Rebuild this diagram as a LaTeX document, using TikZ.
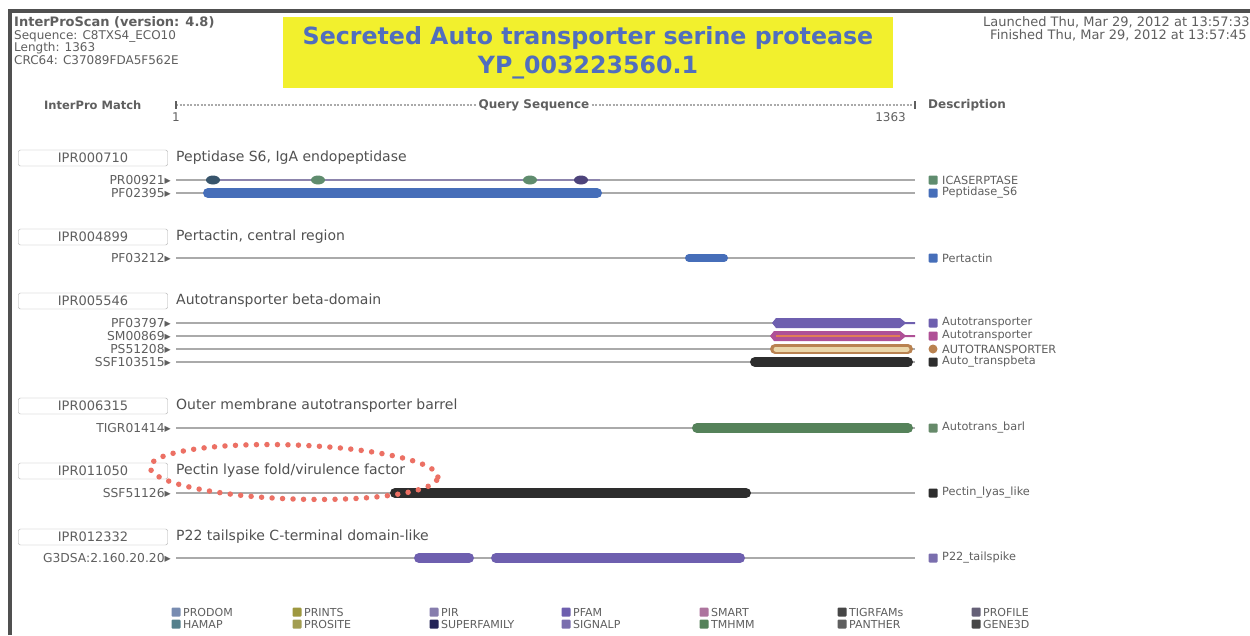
\documentclass[tikz,border=0pt]{standalone}
\usepackage{fontspec}
\setmainfont{DejaVu Sans}
\usetikzlibrary{shapes.geometric}
\definecolor{frame}{RGB}{80,80,80}
\definecolor{ybox}{RGB}{242,240,45}
\definecolor{ttl}{RGB}{80,110,190}
\definecolor{txt}{RGB}{95,95,95}
\definecolor{lgray}{RGB}{170,170,170}
\definecolor{pblue}{RGB}{70,110,185}
\definecolor{pgreen}{RGB}{95,140,110}
\definecolor{ppurp}{RGB}{110,95,175}
\definecolor{ppink}{RGB}{175,80,150}
\definecolor{porange}{RGB}{225,125,85}
\definecolor{pbrown}{RGB}{185,130,80}
\definecolor{pbeige}{RGB}{235,215,170}
\definecolor{pdark}{RGB}{45,45,45}
\definecolor{tgreen}{RGB}{85,130,90}
\definecolor{salmon}{RGB}{236,112,100}
\tikzset{
  hdr/.style={font=\fontsize{12.5}{13}\selectfont\bfseries, text=txt, inner sep=0, anchor=west},
  meta/.style={font=\fontsize{12}{13}\selectfont, text=txt, inner sep=0, anchor=west},
  ipr/.style={draw=lgray, rounded corners=2pt, minimum width=149, minimum height=16, inner sep=0, font=\fontsize{13}{14}\selectfont, text=txt},
  desc/.style={font=\fontsize{14}{15}\selectfont, text=txt!85!black, inner sep=0, anchor=west},
  sig/.style={font=\fontsize{12.3}{13}\selectfont, text=txt, inner sep=0, anchor=east},
  leg/.style={font=\fontsize{11.3}{12}\selectfont, text=txt, inner sep=0, anchor=west},
  track/.style={draw=lgray, line width=2},
  bar/.style={line width=10, line cap=round},
  sq/.style={rounded corners=1pt, minimum size=9, inner sep=0},
  bleg/.style={font=\fontsize{11}{12}\selectfont, text=txt, inner sep=0, anchor=west},
}
\begin{document}
\begin{tikzpicture}[x=1pt,y=-1pt]
\useasboundingbox (0,0) rectangle (1250,635);
\fill[white] (0,0) rectangle (1250,635);
% frame
\coordinate (fbl) at (10,635);
\coordinate (ftl) at (10,11);
\coordinate (ftr) at (1250,11);
\draw[frame, line width=3.5] (fbl) -- (ftl) -- (ftr);

% header
\node[hdr, font=\fontsize{13}{14}\selectfont\bfseries] (h1) at (14,22) {InterProScan (version: 4.8)};
\node[meta] (h2) at (14,36) {Sequence: C8TXS4\_ECO10};
\node[meta] (h3) at (14,48) {Length: 1363};
\node[meta] (h4) at (14,60) {CRC64: C37089FDA5F562E};
\node[meta, font=\fontsize{13}{14}\selectfont] (l1) at (983,22) {Launched Thu, Mar 29, 2012 at 13:57:33};
\node[meta, font=\fontsize{13}{14}\selectfont] (l2) at (990,35) {Finished Thu, Mar 29, 2012 at 13:57:45};

% title
\node[fill=ybox, minimum width=610, minimum height=71, inner sep=0] (tbox) at (588,52.5) {};
\node[font=\fontsize{23.7}{29}\selectfont\bfseries, text=ttl, align=center, inner sep=0] (ttext) at (588,53) {Secreted Auto transporter serine protease\\YP\_003223560.1};

% query sequence header
\node[hdr, font=\fontsize{11.5}{12}\selectfont\bfseries] (ipm) at (44,105) {InterPro Match};
\coordinate (qs) at (176,105);
\coordinate (qe) at (915,105);
\node[font=\fontsize{12}{13}\selectfont\bfseries, text=txt, fill=white, inner sep=2] (qlab) at (534,105) {Query Sequence};
\draw[lgray, line width=1.2, dash pattern=on 2pt off 1.5pt] (qs) -- (qlab.west);
\draw[lgray, line width=1.2, dash pattern=on 2pt off 1.5pt] (qlab.east) -- (qe);
\draw[txt, line width=1.2] (176,101) -- (176,109);
\draw[txt, line width=1.2] (915,101) -- (915,109);
\node[meta, anchor=center] (q1) at (176,117) {1};
\node[meta, anchor=east] (q2) at (906,117) {1363};
\node[hdr, font=\fontsize{12}{13}\selectfont\bfseries] (dsc) at (928,105) {Description};

% group 1
\node[ipr] (g1) at (93,158) {IPR000710};
\node[desc] (d1) at (176,158) {Peptidase S6, IgA endopeptidase};
\node[sig] (s11) at (171,180) {PR00921▸};
\coordinate (a11) at (176,180); \coordinate (b11) at (915,180);
\draw[track] (a11) -- (b11);
\draw[draw=ppurp!50!lgray, line width=2] (206,180) -- (600,180);
\node[ellipse, fill=pblue!60!pgreen!70!black, minimum width=14, minimum height=9, inner sep=0] (e1) at (213,180) {};
\node[ellipse, fill=pgreen, minimum width=14, minimum height=9, inner sep=0] (e2) at (318,180) {};
\node[ellipse, fill=pgreen, minimum width=14, minimum height=9, inner sep=0] (e3) at (530,180) {};
\node[ellipse, fill=ppurp!70!black, minimum width=14, minimum height=9, inner sep=0] (e4) at (581,180) {};
\node[sig] (s12) at (171,193) {PF02395▸};
\coordinate (a12) at (176,193); \coordinate (b12) at (915,193);
\draw[track] (a12) -- (b12);
\draw[bar, pblue] (208,193) -- (597,193);
\node[sq, fill=pgreen] (k11) at (933,180) {};
\node[leg] (t11) at (942,180) {ICASERPTASE};
\node[sq, fill=pblue] (k12) at (933,193) {};
\node[leg] (t12) at (942,193) {Peptidase\_S6};

% group 2
\node[ipr] (g2) at (93,237) {IPR004899};
\node[desc] (d2) at (176,237) {Pertactin, central region};
\node[sig] (s21) at (171,258) {PF03212▸};
\coordinate (a21) at (176,258); \coordinate (b21) at (915,258);
\draw[track] (a21) -- (b21);
\draw[bar, pblue, line width=8] (689,258) -- (724,258);
\node[sq, fill=pblue] (k21) at (933,258) {};
\node[leg] (t21) at (942,258) {Pertactin};

% group 3
\node[ipr] (g3) at (93,301) {IPR005546};
\node[desc] (d3) at (176,301) {Autotransporter beta-domain};
\node[sig] (s31) at (171,323) {PF03797▸};
\node[sig] (s32) at (171,336) {SM00869▸};
\node[sig] (s33) at (171,349) {PS51208▸};
\node[sig] (s34) at (171,362) {SSF103515▸};
\coordinate (a31) at (176,323); \coordinate (b31) at (915,323);
\coordinate (a32) at (176,336); \coordinate (b32) at (915,336);
\coordinate (a33) at (176,349); \coordinate (b33) at (915,349);
\coordinate (a34) at (176,362); \coordinate (b34) at (915,362);
\draw[track] (a31) -- (b31);
\draw[track] (a32) -- (b32);
\draw[track] (a33) -- (b33);
\draw[track] (a34) -- (b34);
\fill[ppurp] (772,323) -- (776,318) -- (900,318) -- (905,322) -- (915,322) -- (915,324) -- (905,324) -- (900,328) -- (776,328) -- cycle;
\fill[ppink] (770,336) -- (774,331) -- (900,331) -- (905,335) -- (915,335) -- (915,337) -- (905,337) -- (900,341) -- (774,341) -- cycle;
\draw[porange, line width=2.5] (776,336) -- (900,336);
\draw[bar, pbrown] (775,349) -- (908,349);
\draw[pbeige, line width=5, line cap=round] (776,349) -- (907,349);
\draw[bar, pdark] (755,362) -- (908,362);
\node[sq, fill=ppurp] (k31) at (933,323) {};
\node[leg] (t31) at (942,323) {Autotransporter};
\node[sq, fill=ppink] (k32) at (933,336) {};
\node[leg] (t32) at (942,336) {Autotransporter};
\node[sq, fill=pbrown, circle] (k33) at (933,349) {};
\node[leg] (t33) at (942,349) {AUTOTRANSPORTER};
\node[sq, fill=pdark] (k34) at (933,362) {};
\node[leg] (t34) at (942,362) {Auto\_transpbeta};

% group 4
\node[ipr] (g4) at (93,406) {IPR006315};
\node[desc] (d4) at (176,406) {Outer membrane autotransporter barrel};
\node[sig] (s41) at (171,428) {TIGR01414▸};
\coordinate (a41) at (176,428); \coordinate (b41) at (915,428);
\draw[track] (a41) -- (b41);
\draw[bar, tgreen] (697,428) -- (908,428);
\node[sq, fill=tgreen!80!lgray] (k41) at (933,428) {};
\node[leg] (t41) at (942,428) {Autotrans\_barl};

% group 5
\node[ipr] (g5) at (93,471) {IPR011050};
\node[desc] (d5) at (176,471) {Pectin lyase fold/virulence factor};
\node[sig] (s51) at (171,493) {SSF51126▸};
\coordinate (a51) at (176,493); \coordinate (b51) at (915,493);
\draw[track] (a51) -- (b51);
\draw[bar, pdark] (395,493) -- (746,493);
\node[sq, fill=pdark] (k51) at (933,493) {};
\node[leg] (t51) at (942,493) {Pectin\_lyas\_like};
\node[ellipse, draw=salmon, line width=5.5, dash pattern=on 0pt off 10.5pt, line cap=round, minimum width=288, minimum height=54, rotate=-2] (ring) at (294,472) {};

% group 6
\node[ipr] (g6) at (93,537) {IPR012332};
\node[desc] (d6) at (176,537) {P22 tailspike C-terminal domain-like};
\node[sig] (s61) at (171,558) {G3DSA:2.160.20.20▸};
\coordinate (a61) at (176,558); \coordinate (b61) at (915,558);
\draw[track] (a61) -- (b61);
\draw[bar, ppurp] (419,558) -- (469,558);
\draw[bar, ppurp] (496,558) -- (740,558);
\node[sq, fill=ppurp!80!lgray] (k61) at (933,558) {};
\node[leg] (t61) at (942,558) {P22\_tailspike};

% bottom legend
\node[sq, fill=pblue!50!lgray] (b1) at (176,612) {};
\node[bleg] (bt1) at (183,612) {PRODOM};
\node[sq, fill=pblue!40!pgreen] (b2) at (176,624) {};
\node[bleg] (bt2) at (183,624) {HAMAP};
\node[sq, fill=olive!60!lgray] (b3) at (297,612) {};
\node[bleg] (bt3) at (304,612) {PRINTS};
\node[sq, fill=olive!50!lgray] (b4) at (297,624) {};
\node[bleg] (bt4) at (304,624) {PROSITE};
\node[sq, fill=ppurp!60!lgray] (b5) at (434,612) {};
\node[bleg] (bt5) at (441,612) {PIR};
\node[sq, fill=pdark!80!blue] (b6) at (434,624) {};
\node[bleg] (bt6) at (441,624) {SUPERFAMILY};
\node[sq, fill=ppurp] (b7) at (566,612) {};
\node[bleg] (bt7) at (573,612) {PFAM};
\node[sq, fill=ppurp!80!lgray] (b8) at (566,624) {};
\node[bleg] (bt8) at (573,624) {SIGNALP};
\node[sq, fill=ppink!60!lgray] (b9) at (704,612) {};
\node[bleg] (bt9) at (711,612) {SMART};
\node[sq, fill=tgreen] (b10) at (704,624) {};
\node[bleg] (bt10) at (711,624) {TMHMM};
\node[sq, fill=pdark!80!lgray] (b11) at (842,612) {};
\node[bleg] (bt11) at (849,612) {TIGRFAMs};
\node[sq, fill=pdark!60!lgray] (b12) at (842,624) {};
\node[bleg] (bt12) at (849,624) {PANTHER};
\node[sq, fill=ppurp!40!pdark!70!lgray] (b13) at (976,612) {};
\node[bleg] (bt13) at (983,612) {PROFILE};
\node[sq, fill=pdark!80!lgray] (b14) at (976,624) {};
\node[bleg] (bt14) at (983,624) {GENE3D};
\end{tikzpicture}
\end{document}
